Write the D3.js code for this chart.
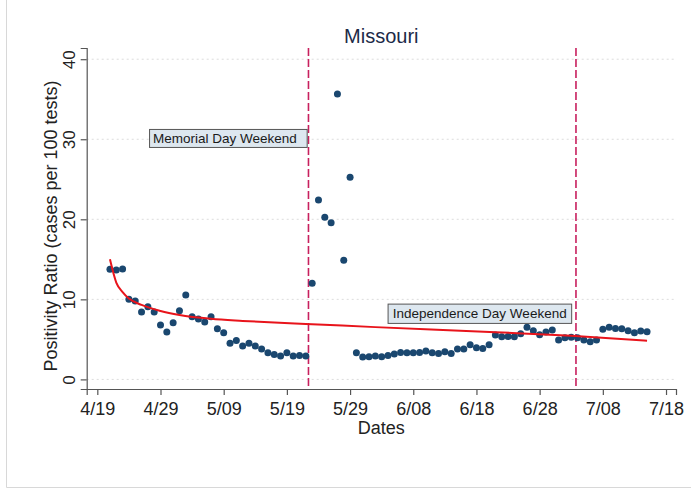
<!DOCTYPE html>
<html>
<head>
<meta charset="utf-8">
<script src="https://cdn.jsdelivr.net/npm/d3@7"></script>
<style>
  html, body { margin: 0; padding: 0; background: #ffffff; }
  svg { display: block; font-family: "Liberation Sans", Arial, Helvetica, sans-serif; }
</style>
</head>
<body>
<svg id="chart" width="691" height="491"></svg>
<script>
// ---------------- DATA ----------------
const title = "Missouri";
const xTitle = "Dates";
const yTitle = "Positivity Ratio (cases per 100 tests)";

// daily observations, 2020-04-21 .. 2020-07-15
const startDate = "2020-04-21";
const positivity = [
  13.75, 13.66, 13.79, 10.0, 9.79, 8.41, 9.08, 8.41, 6.79, 5.91,
  7.08, 8.58, 10.54, 7.83, 7.54, 7.16, 7.83, 6.33, 5.83, 4.5,
  4.87, 4.16, 4.5, 4.16, 3.79, 3.33, 3.12, 2.91, 3.33, 2.91,
  3.0, 2.91, 12.0, 22.4, 20.25, 19.58, 35.66, 14.87, 25.25, 3.33,
  2.79, 2.83, 2.91, 2.83, 3.0, 3.16, 3.37, 3.33, 3.33, 3.37,
  3.54, 3.33, 3.25, 3.45, 3.25, 3.79, 3.79, 4.33, 3.95, 3.87,
  4.33, 5.54, 5.33, 5.35, 5.33, 5.7, 6.5, 6.08, 5.58, 5.91,
  6.16, 4.91, 5.2, 5.25, 5.2, 4.91, 4.7, 4.91, 6.25, 6.5,
  6.37, 6.33, 6.08, 5.83, 6.04, 5.95
];

// fitted trend
const fitDates  = ["2020-04-21","2020-04-22","2020-04-23","2020-04-24","2020-04-26","2020-04-29","2020-05-02","2020-05-07","2020-05-12","2020-05-17","2020-05-22","2020-06-02","2020-06-21","2020-07-03","2020-07-15"];
const fitValues = [15.0, 12.1, 10.9, 10.1, 9.3, 8.55, 8.05, 7.57, 7.31, 7.1, 6.93, 6.53, 5.9, 5.44, 4.82];

// event lines and their labels
const eventDates  = ["2020-05-22T10:00", "2020-07-03T18:00"];
const eventLabels = ["Memorial Day Weekend", "Independence Day Weekend"];
const eventLabelY = [30.1, 8.2];

// axis ticks
const xTickDates  = ["2020-04-19","2020-04-29","2020-05-09","2020-05-19","2020-05-29","2020-06-08","2020-06-18","2020-06-28","2020-07-08","2020-07-18"];
const xTickLabels = ["4/19","4/29","5/09","5/19","5/29","6/08","6/18","6/28","7/08","7/18"];
const yTicks = [0, 10, 20, 30, 40];

// ---------------- CHART ----------------
const parse = s => new Date(s + (s.length > 10 ? ":00Z" : "T00:00:00Z"));
const dayMs = 86400000;

const svg = d3.select("#chart");

// faint outer frame of the exported graph
svg.append("path")
  .attr("d", "M6.5,0 V487.5 H691")
  .attr("fill", "none")
  .attr("stroke", "#d8d8d8")
  .attr("stroke-width", 1);

const plot = { left: 86.7, right: 676, top: 48, bottom: 389 };

const x = d3.scaleUtc()
  .domain([new Date(parse("2020-04-19").getTime() - 1.68 * dayMs),
           new Date(parse("2020-07-18").getTime() + 1.58 * dayMs)])
  .range([plot.left, plot.right]);

const y = d3.scaleLinear()
  .domain([-1.2, 41.4])
  .range([plot.bottom, plot.top]);

const obs = positivity.map((v, i) => ({
  date: new Date(parse(startDate).getTime() + i * dayMs),
  value: v
}));
const fit = fitDates.map((d, i) => ({ date: parse(d), value: fitValues[i] }));

// gridlines
svg.append("g")
  .selectAll("line")
  .data(yTicks)
  .join("line")
  .attr("x1", plot.left)
  .attr("x2", plot.right)
  .attr("y1", d => y(d))
  .attr("y2", d => y(d))
  .attr("stroke", "#dcdcdc")
  .attr("stroke-width", 1)
  .attr("stroke-dasharray", "2,3");

// x axis
const xAxis = d3.axisBottom(x)
  .tickValues(xTickDates.map(parse))
  .tickFormat((d, i) => xTickLabels[i])
  .tickSizeOuter(0)
  .tickSize(6)
  .tickPadding(7);

const gx = svg.append("g")
  .attr("transform", `translate(0,${plot.bottom})`)
  .call(xAxis);
gx.select(".domain").attr("stroke", "#555").attr("stroke-width", 1.2);
gx.selectAll(".tick line").attr("stroke", "#555").attr("stroke-width", 1.2);
gx.selectAll(".tick text")
  .attr("font-size", 18)
  .attr("fill", "#222")
  .attr("font-family", "Liberation Sans, Arial, sans-serif");

// y axis
const yAxis = d3.axisLeft(y)
  .tickValues(yTicks)
  .tickSizeOuter(0)
  .tickSize(6)
  .tickFormat(d3.format("d"));

const gy = svg.append("g")
  .attr("transform", `translate(${plot.left},0)`)
  .call(yAxis);
gy.select(".domain").attr("stroke", "#555").attr("stroke-width", 1.2);
gy.selectAll(".tick line").attr("stroke", "#555").attr("stroke-width", 1.2);
gy.selectAll(".tick text")
  .attr("font-size", 17)
  .attr("fill", "#222")
  .attr("font-family", "Liberation Sans, Arial, sans-serif")
  .attr("x", null)
  .attr("dy", null)
  .attr("text-anchor", "middle")
  .attr("transform", "translate(-12,0) rotate(-90)");

// event lines
svg.append("g")
  .selectAll("line")
  .data(eventDates)
  .join("line")
  .attr("x1", d => x(parse(d)))
  .attr("x2", d => x(parse(d)))
  .attr("y1", plot.top)
  .attr("y2", plot.bottom)
  .attr("stroke", "#c8205e")
  .attr("stroke-width", 1.6)
  .attr("stroke-dasharray", "8,3");

// points
svg.append("g")
  .selectAll("circle")
  .data(obs)
  .join("circle")
  .attr("cx", d => x(d.date))
  .attr("cy", d => y(d.value))
  .attr("r", 3.5)
  .attr("fill", "#1a476f");

// fit line
svg.append("path")
  .datum(fit)
  .attr("fill", "none")
  .attr("stroke", "#e8141b")
  .attr("stroke-width", 2)
  .attr("d", d3.line()
    .x(d => x(d.date))
    .y(d => y(d.value))
    .curve(d3.curveMonotoneX));

// event labels (boxes)
const boxStyle = [
  { padL: 3.4, padR: 10.4, gap: 1.3, h: 18 },
  { padL: 4.7, padR: 5, gap: 4.3, h: 19.3 }
];
eventLabels.forEach((lab, i) => {
  const st = boxStyle[i];
  const g = svg.append("g");
  const rect = g.append("rect")
    .attr("fill", "#dde7ef")
    .attr("stroke", "#555")
    .attr("stroke-width", 1);
  const t = g.append("text")
    .text(lab)
    .attr("font-size", 13.5)
    .attr("fill", "#1a1a1a");
  const w = t.node().getComputedTextLength();
  const right = x(parse(eventDates[i])) - st.gap;
  const left = right - (w + st.padL + st.padR);
  const cy = y(eventLabelY[i]);
  rect.attr("x", left).attr("y", cy - st.h / 2).attr("width", w + st.padL + st.padR).attr("height", st.h);
  t.attr("x", left + st.padL).attr("y", cy + 4.7);
});

// titles
svg.append("text")
  .attr("x", (plot.left + plot.right) / 2)
  .attr("y", 43.3)
  .attr("text-anchor", "middle")
  .attr("font-size", 20)
  .attr("fill", "#1c2a48")
  .text(title);

svg.append("text")
  .attr("x", (plot.left + plot.right) / 2)
  .attr("y", 434)
  .attr("text-anchor", "middle")
  .attr("font-size", 18)
  .attr("fill", "#222")
  .text(xTitle);

svg.append("text")
  .attr("transform", `translate(57,226) rotate(-90)`)
  .attr("text-anchor", "middle")
  .attr("font-size", 18)
  .attr("fill", "#222")
  .text(yTitle);
</script>
</body>
</html>
